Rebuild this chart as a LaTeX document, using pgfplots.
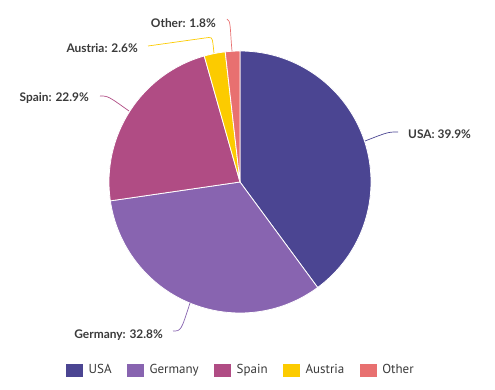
\documentclass[border=0pt]{standalone}
\usepackage{pgfplots}
\pgfplotsset{compat=1.18}
\usepackage{fontspec}
\setmainfont{Lato}
\newfontfamily\legfont{PT Sans}
\definecolor{cUSA}{HTML}{4B4592}
\definecolor{cGer}{HTML}{8864B0}
\definecolor{cSpa}{HTML}{B04C84}
\definecolor{cAus}{HTML}{FCCB00}
\definecolor{cOth}{HTML}{E87070}
\definecolor{txt}{HTML}{3A3A3A}
\begin{document}
\begin{tikzpicture}
% shares in percent
\pgfmathsetmacro\aA{90}
\pgfmathsetmacro\aB{\aA-3.6*39.9}
\pgfmathsetmacro\aC{\aB-3.6*32.8}
\pgfmathsetmacro\aD{\aC-3.6*22.9}
\pgfmathsetmacro\aE{\aD-3.6*2.6}
\pgfmathsetmacro\aF{\aE-3.6*1.8}
\begin{axis}[
  x=1pt, y=1pt, xmin=0, xmax=495, ymin=0, ymax=390,
  scale only axis, hide axis, clip=false,
  legend columns=5,
  legend style={at={(axis cs:240,20)}, anchor=center, draw=none, fill=none,
    font=\legfont\fontsize{13}{15}\selectfont, text=txt,
    nodes={inner sep=0pt},
    /tikz/every even column/.append style={column sep=15.5pt},
    /tikz/every odd column/.append style={column sep=6pt}},
]
\path (axis cs:0,0) rectangle (axis cs:495,390);
\def\cx{240}\def\cy{208}
\foreach \s/\e/\c in {\aA/\aB/cUSA, \aB/\aC/cGer, \aC/\aD/cSpa, \aD/\aE/cAus, \aE/\aF/cOth}{
  \edef\tmp{\noexpand\filldraw[fill=\c, draw=white, line width=0.8pt, line join=round]
    (axis cs:\cx,\cy) -- +(\s:131pt) arc[start angle=\s, end angle=\e, radius=131pt] -- cycle;}
  \tmp
}
\addlegendimage{legend image code/.code={\fill[cUSA] (0pt,-6pt) rectangle (16pt,6pt);}}
\addlegendentry{USA}
\addlegendimage{legend image code/.code={\fill[cGer] (0pt,-6pt) rectangle (16pt,6pt);}}
\addlegendentry{Germany}
\addlegendimage{legend image code/.code={\fill[cSpa] (0pt,-6pt) rectangle (16pt,6pt);}}
\addlegendentry{Spain}
\addlegendimage{legend image code/.code={\fill[cAus] (0pt,-6pt) rectangle (16pt,6pt);}}
\addlegendentry{Austria}
\addlegendimage{legend image code/.code={\fill[cOth] (0pt,-6pt) rectangle (16pt,6pt);}}
\addlegendentry{Other}
% leader lines (y = 390 - pixel row)
\draw[cOth, line width=0.7pt] (axis cs:227,371) .. controls (axis cs:231,370) and (axis cs:230,360) .. (axis cs:232,339);
\draw[cAus, line width=0.7pt] (axis cs:148,344) -- (axis cs:205,352) .. controls (axis cs:212,353) .. (axis cs:213,346) -- (axis cs:214,337);
\draw[cSpa, line width=0.7pt] (axis cs:100,294) .. controls (axis cs:108,294) .. (axis cs:129,279);
\draw[cUSA, line width=0.7pt] (axis cs:398,258) .. controls (axis cs:388,258) .. (axis cs:365,249);
\draw[cGer, line width=0.7pt] (axis cs:173,59) .. controls (axis cs:181,59) .. (axis cs:190,87);
% labels
\begin{scope}[every node/.style={font=\bfseries\fontsize{11.9}{14}\selectfont, text=txt, inner sep=0pt}]
\node[anchor=base east] at (axis cs:216,362) {Other: 1.8\%};
\node[anchor=base east] at (axis cs:138,337) {Austria: 2.6\%};
\node[anchor=base east] at (axis cs:89,288) {Spain: 22.9\%};
\node[anchor=base west] at (axis cs:408,251) {USA: 39.9\%};
\node[anchor=base east] at (axis cs:163,51) {Germany: 32.8\%};
\end{scope}
\end{axis}
\end{tikzpicture}
\end{document}
